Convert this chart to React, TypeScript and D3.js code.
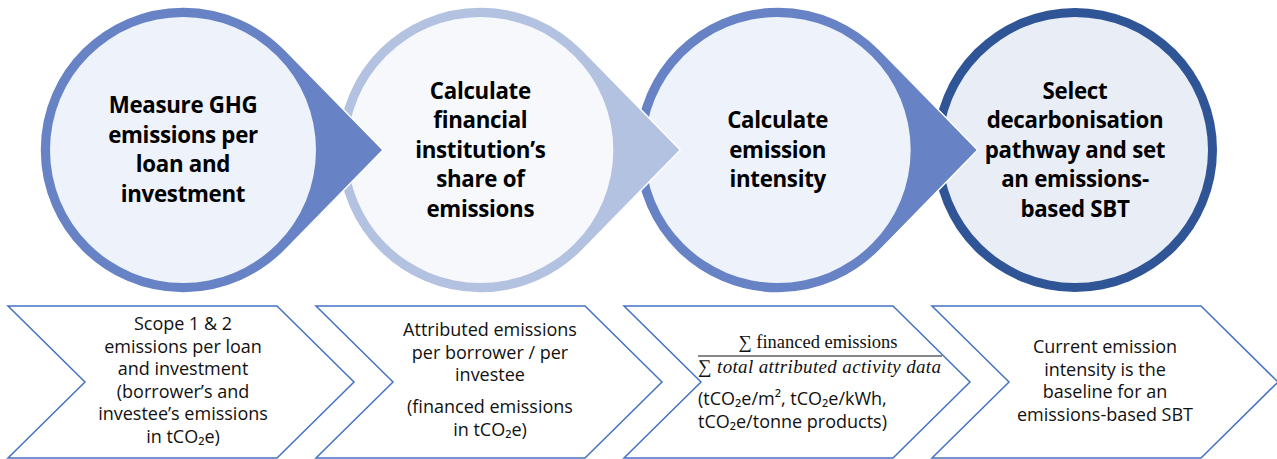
import React from "react";
import * as d3 from "d3";

const steps = ["measure", "share", "intensity", "target"];
const stepTitles: string[][] = [
  ["Measure GHG", "emissions per", "loan and", "investment"],
  ["Calculate", "financial", "institution’s", "share of", "emissions"],
  ["Calculate", "emission", "intensity"],
  ["Select", "decarbonisation", "pathway and set", "an emissions-", "based SBT"],
];
const ringColors = ["#6783c5", "#b4c2e1", "#6783c5", "#2f5597"];
const fillColors = ["#eef2fa", "#f6f8fc", "#eef2fa", "#e9edf5"];
const hasTip = [true, true, true, false];

const descriptions: string[][][] = [
  [["Scope 1 & 2", "emissions per loan", "and investment", "(borrower’s and", "investee’s emissions", "in tCO₂e)"]],
  [["Attributed emissions", "per borrower / per", "investee"], ["(financed emissions", "in tCO₂e)"]],
  [],
  [["Current emission", "intensity is the", "baseline for an", "emissions-based SBT"]],
];
const fractionNumerator = "∑ financed emissions";
const fractionDenominator = "∑ total attributed activity data";
const intensityUnits = ["(tCO₂e/m², tCO₂e/kWh,", "tCO₂e/tonne products)"];

const W = 1277;
const H = 459;

export default function App() {
  const cx = d3.scalePoint<string>().domain(steps).range([183, 1075]);
  const chevX = d3.scalePoint<string>().domain(steps).range([8, 932]);
  const cy = 150;
  const R = 143;
  const ring = 10;
  const tipOffset = 200;

  const teardrop = (x: number) => {
    const th = Math.acos(R / tipOffset);
    const ux = x + R * Math.cos(th);
    const uy = cy - R * Math.sin(th);
    const ly = cy + R * Math.sin(th);
    return `M${x + tipOffset},${cy} L${ux},${uy} A${R},${R} 0 1 0 ${ux},${ly} Z`;
  };

  const chevTop = 306;
  const chevBot = 458;
  const chevMid = (chevTop + chevBot) / 2;
  const chevW = 269;
  const chevDepth = 77;
  const chevron = (x0: number) =>
    `M${x0},${chevTop} L${x0 + chevW},${chevTop} L${x0 + chevW + chevDepth},${chevMid} L${x0 + chevW},${chevBot} L${x0},${chevBot} L${x0 + chevDepth},${chevMid} Z`;

  const titleLH = 29.5;
  const descLH = 22.6;
  const descFS = 18;
  const descStarts = [330, 336, 0, 353];
  const descCenters = [175, 174, 0, 173];

  const order = [...steps].reverse();

  return (
    <svg
      width={W}
      height={H}
      style={{ position: "absolute", left: 0, top: 0, background: "#fff" }}
      fontFamily="'Open Sans', Lato, sans-serif"
    >
      <rect width={W} height={H} fill="#fff" />
      {order.map((s) => {
        const i = steps.indexOf(s);
        const x = cx(s)!;
        const lines = stepTitles[i];
        const y0 = cy - ((lines.length - 1) / 2) * titleLH + 7.5;
        return (
          <g key={s}>
            {hasTip[i] ? (
              <path d={teardrop(x)} fill={ringColors[i]} stroke="#fff" strokeWidth={1.5} strokeLinejoin="miter" />
            ) : (
              <circle cx={x} cy={cy} r={R - 1} fill={ringColors[i]} />
            )}
            <circle cx={x} cy={cy} r={R - ring} fill={fillColors[i]} />
            <text textAnchor="middle" fontWeight={700} fontSize={22.3} fill="#000" letterSpacing={-0.3}>
              {lines.map((l, j) => (
                <tspan key={j} x={x} y={y0 + j * titleLH}>
                  {l}
                </tspan>
              ))}
            </text>
          </g>
        );
      })}

      {steps.map((s, i) => {
        const x0 = chevX(s)!;
        let y = descStarts[i];
        const paras = descriptions[i];
        return (
          <g key={s}>
            <path d={chevron(x0)} fill="#fff" stroke="#4472c4" strokeWidth={1.5} />
            {paras.map((p, pi) => {
              const startY = y + (pi > 0 ? 9.5 : 0);
              const el = (
                <text key={pi} textAnchor="middle" fontSize={descFS} fill="#111">
                  {p.map((l, j) => (
                    <tspan key={j} x={x0 + descCenters[i]} y={startY + j * descLH}>
                      {l}
                    </tspan>
                  ))}
                </text>
              );
              y = startY + p.length * descLH;
              return el;
            })}
          </g>
        );
      })}

      {(() => {
        const x0 = chevX(steps[2])!;
        const left = x0 + 74;
        const right = x0 + 318;
        return (
          <g>
            <text x={(left + right) / 2 - 2} y={348} textAnchor="middle" fontFamily="'Liberation Serif', serif" fontSize={18.5} fill="#111">
              {fractionNumerator}
            </text>
            <line x1={left} x2={right} y1={356} y2={356} stroke="#111" strokeWidth={1} />
            <text x={left} y={373} textLength={243} lengthAdjust="spacing" fontFamily="'Liberation Serif', serif" fontStyle="italic" fontSize={19} fill="#111">
              {fractionDenominator}
            </text>
            <text fontSize={descFS} fill="#111">
              {intensityUnits.map((l, j) => (
                <tspan key={j} x={left} y={405 + j * 22.6}>
                  {l}
                </tspan>
              ))}
            </text>
          </g>
        );
      })()}
    </svg>
  );
}
